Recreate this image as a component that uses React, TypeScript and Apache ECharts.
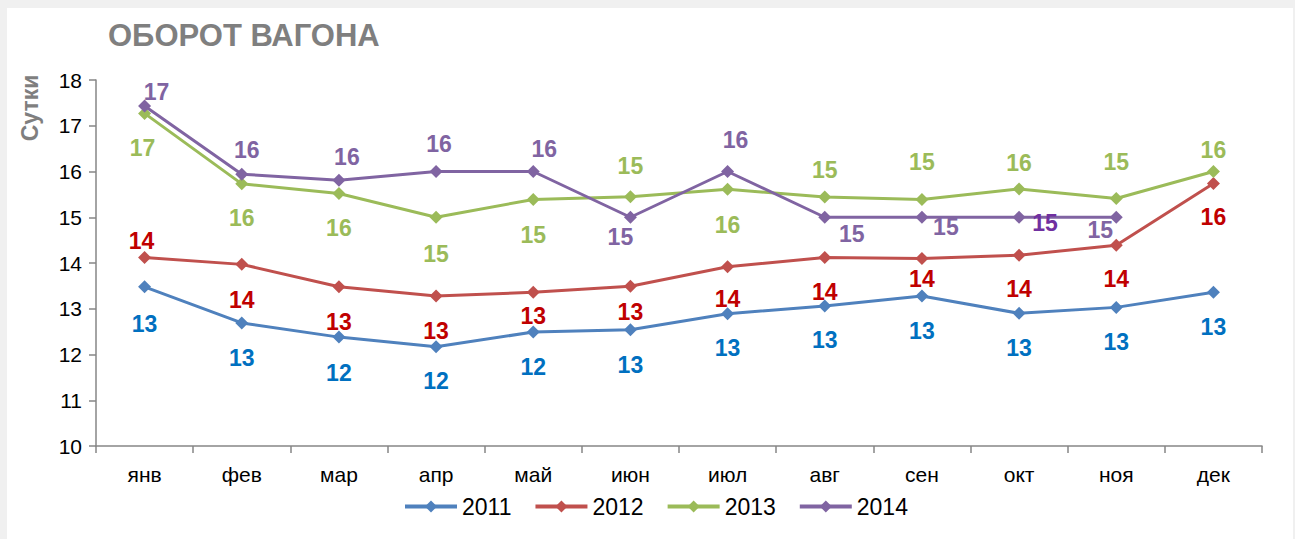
import React, { useEffect, useRef } from "react";
import * as echarts from "echarts";

const categories = ["янв", "фев", "мар", "апр", "май", "июн", "июл", "авг", "сен", "окт", "ноя", "дек"];
const seriesNames = ["2011", "2012", "2013", "2014"];
const values2011 = [13.48, 12.69, 12.38, 12.17, 12.49, 12.54, 12.89, 13.06, 13.28, 12.9, 13.03, 13.36];
const values2012 = [14.12, 13.97, 13.48, 13.28, 13.36, 13.49, 13.92, 14.12, 14.1, 14.17, 14.39, 15.74];
const values2013 = [17.27, 15.73, 15.52, 15.0, 15.39, 15.45, 15.61, 15.44, 15.39, 15.62, 15.41, 16.0];
const values2014 = [17.43, 15.94, 15.81, 16.0, 16.0, 15.0, 16.0, 15.0, 15.0, 15.0, 15.0, null];
const yTicks = { min: 10, max: 18, interval: 1 };

const off2011 = [[0, 37], [0, 35], [0, 36], [0, 34], [0, 35], [0, 35], [0, 34], [0, 34], [0, 35], [0, 35], [0, 35], [0, 35]];
const off2012 = [[-3, -17], [0, 36], [0, 35], [0, 35], [0, 24], [0, 26], [0, 32], [0, 34], [0, 21], [0, 34], [0, 34], [0, 34]];
const off2013 = [[-2, 35], [0, 34], [0, 35], [0, 37], [0, 36], [0, -31], [0, 36], [0, -27], [0, -37], [0, -26], [0, -36], [0, -22]];
const off2014 = [[12, -14], [5, -24], [8, -23], [3, -28], [11, -23], [-10, 20], [8, -32], [27, 17], [24, 10], [26, 6], [-16, 13], [0, 0]];

const lineColors = ["#4F81BD", "#C0504D", "#9BBB59", "#8064A2"];
const labelColors = ["#0070C0", "#C00000", "#9BBB59", "#8064A2"];

const FONT = "'Liberation Sans Narrow', 'Arial Narrow', 'Liberation Sans', Arial, sans-serif";

export default function App() {
  const ref = useRef<HTMLDivElement>(null);
  useEffect(() => {
    if (!ref.current) return;
    const chart = echarts.init(ref.current, undefined, { renderer: "svg" });
    const all = [values2011, values2012, values2013, values2014];
    const offs = [off2011, off2012, off2013, off2014];
    const series = all.map((vals, si) => ({
      name: seriesNames[si],
      type: "line",
      symbol: "diamond",
      symbolSize: 13,
      z: 2 + si,
      lineStyle: { color: lineColors[si], width: 3 },
      itemStyle: { color: lineColors[si] },
      data: vals.map((v, i) => ({
        value: v,
        label: {
          show: v !== null,
          position: "inside",
          offset: offs[si][i],
          color: si === 3 && i === 9 ? "#7030A0" : labelColors[si],
          fontFamily: FONT,
          fontWeight: "bold",
          fontSize: 23,
          formatter: (p: any) => String(Math.round(p.value)),
        },
      })),
    }));
    chart.setOption({
      animation: false,
      backgroundColor: "#ffffff",
      title: {
        text: "ОБОРОТ ВАГОНА",
        left: 101,
        top: 12,
        padding: 0,
        textStyle: { fontFamily: FONT, fontWeight: "bold", fontSize: 31, color: "#7F7F7F" },
      },
      graphic: [
        {
          type: "text",
          x: 23,
          y: 100,
          rotation: Math.PI / 2,
          style: {
            text: "Сутки",
            fontFamily: FONT,
            fontWeight: "bold",
            fontSize: 23,
            fill: "#7F7F7F",
            textAlign: "center",
            textVerticalAlign: "middle",
          },
        },
      ],
      legend: {
        data: seriesNames,
        left: 391,
        top: 482,
        itemWidth: 52,
        itemHeight: 15,
        itemGap: 22,
        lineStyle: { width: 4 },
        textStyle: { fontFamily: FONT, fontSize: 23, color: "#000" },
      },
      grid: { left: 89, right: 31, top: 72, bottom: 93 },
      xAxis: {
        type: "category",
        data: categories,
        boundaryGap: true,
        axisLine: { lineStyle: { color: "#868686", width: 1.5 } },
        axisTick: { show: true, length: 7, lineStyle: { color: "#868686", width: 1.5 } },
        axisLabel: { fontFamily: FONT, fontSize: 21, color: "#000", margin: 18 },
      },
      yAxis: {
        type: "value",
        min: yTicks.min,
        max: yTicks.max,
        interval: yTicks.interval,
        splitLine: { show: false },
        axisLine: { show: true, lineStyle: { color: "#868686", width: 1.5 } },
        axisTick: { show: true, length: 7, lineStyle: { color: "#868686", width: 1.5 } },
        axisLabel: { fontFamily: FONT, fontSize: 21, color: "#000", margin: 14 },
      },
      series,
    });
    return () => chart.dispose();
  }, []);
  return (
    <div style={{ position: "fixed", left: 0, top: 0, width: 1295, height: 539, background: "#F0F0F0" }}>
      <div ref={ref} style={{ position: "absolute", left: 7, top: 8, width: 1286, height: 531 }} />
    </div>
  );
}
